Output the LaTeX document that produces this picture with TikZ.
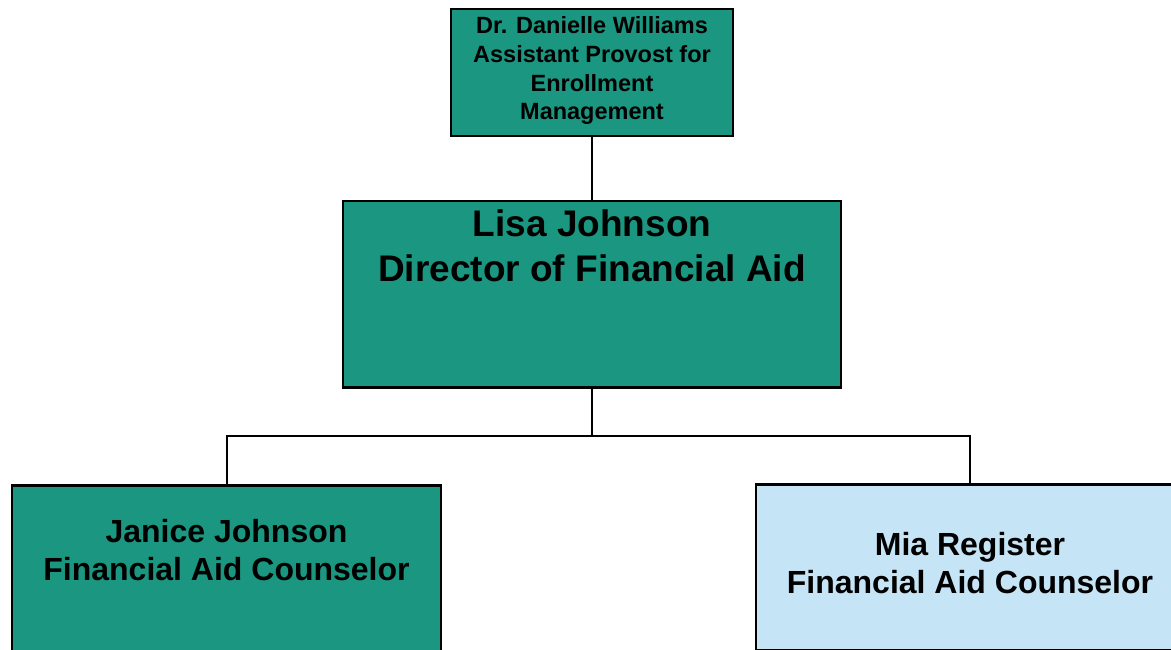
\documentclass[tikz,border=0pt]{standalone}
\usepackage{fontspec}
\setmainfont{Liberation Sans}
\usetikzlibrary{calc}
\definecolor{aidteal}{RGB}{27,150,128}
\definecolor{aidblue}{RGB}{197,228,245}

\begin{document}
\begin{tikzpicture}[x=1pt,y=-1pt,
 box/.style={draw=black,line width=2.5pt,fill=aidteal,align=center,inner sep=0pt,anchor=north},
 link/.style={black,line width=2pt}]
\useasboundingbox (0,0) rectangle (1171,650);
\node[box,minimum width=282,text height=110.5,text depth=16.5,font=\bfseries\fontsize{23.5}{28.7}\selectfont] (provost) at (592,8)
 {Dr. Danielle Williams\\Assistant Provost for\\Enrollment\\Management};
\node[box,minimum width=498,text height=80.2,text depth=105.8,font=\bfseries\fontsize{37}{45}\selectfont] (lisa) at (592,200)
 {Lisa Johnson\\Director of Financial Aid};
\node[box,minimum width=429,text height=95.5,text depth=80.5,font=\bfseries\fontsize{32}{38}\selectfont] (janice) at (226.5,484)
 {Janice Johnson\\Financial Aid Counselor};
\node[box,fill=aidblue,minimum width=428,text height=109.5,text depth=56.5,font=\bfseries\fontsize{32}{38}\selectfont] (mia) at (970,483)
 {Mia Register\\Financial Aid Counselor};
\coordinate (fork) at ($(lisa.south)+(0,47)$);
\draw[link] (provost.south)--(lisa.north);
\draw[link] (lisa.south)--(fork) -| (janice.north);
\draw[link] (fork) -| (mia.north);
\end{tikzpicture}
\end{document}
